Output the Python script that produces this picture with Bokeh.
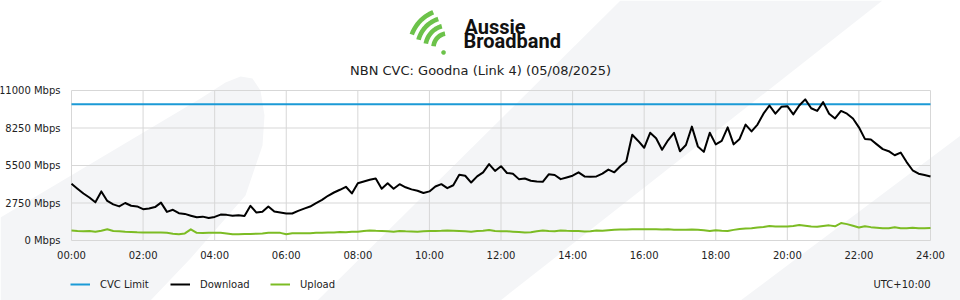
import numpy as np
from bokeh.plotting import figure
from bokeh.models import (ColumnDataSource, FixedTicker, Legend, LegendItem, Label,
                          PolyAnnotation, Range1d, LinearAxis)
from bokeh.embed import file_html
from bokeh.resources import INLINE

# ---------------- data ----------------
interval_minutes = 10
download = [
    4160, 3800, 3450, 3150, 2800, 3600,
    2900, 2650, 2500, 2750, 2550, 2500,
    2300, 2350, 2450, 2780, 2100, 2250,
    2000, 1950, 1820, 1700, 1750, 1650,
    1730, 1900, 1880, 1810, 1850, 1800,
    2540, 2050, 2100, 2490, 2120, 2050,
    1980, 1980, 2170, 2340, 2490, 2740,
    2980, 3280, 3520, 3720, 3940, 3450,
    4200, 4330, 4450, 4550, 3800, 4200,
    3800, 4130, 3900, 3750, 3650, 3480,
    3600, 3960, 4130, 3840, 4050, 4820,
    4750, 4250, 4700, 5000, 5600, 5100,
    5450, 4950, 4900, 4500, 4550, 4380,
    4330, 4300, 4850, 4800, 4500, 4620,
    4750, 5000, 4700, 4680, 4700, 4900,
    5200, 5000, 5450, 5800, 7750, 7300,
    6800, 7900, 7500, 6650, 7350, 7900,
    6550, 7000, 8350, 6900, 6500, 7900,
    7050, 7300, 8300, 7050, 7450, 8500,
    8000, 8500, 9300, 9900, 9300, 9800,
    9850, 9250, 9900, 10350, 9700, 9500,
    10150, 9300, 8950, 9500, 9300, 8950,
    8300, 7450, 7400, 7050, 6700, 6550,
    6250, 6450, 5750, 5150, 4900, 4800,
    4690,
]
upload = [
    740, 700, 680, 690, 640, 720,
    820, 700, 680, 640, 630, 600,
    580, 580, 580, 580, 560, 500,
    460, 520, 820, 560, 550, 560,
    570, 560, 520, 460, 450, 470,
    480, 500, 520, 560, 570, 560,
    460, 530, 540, 540, 540, 560,
    560, 580, 580, 620, 600, 640,
    650, 700, 740, 710, 700, 680,
    650, 690, 670, 660, 650, 670,
    690, 700, 710, 740, 720, 700,
    680, 650, 690, 710, 770, 700,
    680, 680, 650, 620, 580, 610,
    680, 740, 700, 680, 740, 710,
    700, 690, 660, 680, 740, 720,
    760, 790, 800, 810, 820, 820,
    820, 820, 820, 810, 820, 790,
    780, 790, 800, 780, 760, 700,
    760, 720, 700, 780, 850, 880,
    900, 950, 990, 1060, 1030, 1020,
    1030, 1060, 1130, 1080, 1020, 1000,
    1060, 1110, 1040, 1280, 1200, 1080,
    950, 1050, 980, 940, 900, 900,
    970, 900, 900, 940, 900, 890,
    920,
]
cvc_limit = 10000
y_ticks = [0, 2750, 5500, 8250, 11000]
y_tick_labels = ["0 Mbps", "2750 Mbps", "5500 Mbps", "8250 Mbps", "11000 Mbps"]
x_ticks = [0, 2, 4, 6, 8, 10, 12, 14, 16, 18, 20, 22, 24]
x_tick_labels = ["00:00", "02:00", "04:00", "06:00", "08:00", "10:00", "12:00",
                 "14:00", "16:00", "18:00", "20:00", "22:00", "24:00"]
series_names = ["CVC Limit", "Download", "Upload"]
title_text = "NBN CVC: Goodna (Link 4) (05/08/2025)"
brand_lines = ["Aussie", "Broadband"]
timezone_text = "UTC+10:00"

hours = [i * interval_minutes / 60 for i in range(len(download))]
src = ColumnDataSource(dict(t=hours, down=download, up=upload))

# ---------------- layout (pixels of the 960x300 canvas) ----------------
W, H = 960, 300
CL, CR, CT, CB = 71, 930, 90, 240          # chart rectangle on the canvas
x0, x1 = x_ticks[0], x_ticks[-1]
y0, y1 = y_ticks[0], y_ticks[-1]
kx = (x1 - x0) / (CR - CL)
ky = (y1 - y0) / (CB - CT)
x_range = Range1d(x0 - CL * kx, x1 + (W - CR) * kx)
y_range = Range1d(y0 - (H - CB) * ky, y1 + CT * ky)


def sx(cx):
    return cx


def sy(cy):
    return H - cy


FONT = "DejaVu Sans"
BLUE = "#1b9ad6"
GREEN = "#7cbc24"
LOGO_GREEN = "#6cc24a"
TEXT = "#222222"
GRID = "#d7d7d7"

p = figure(width=W, height=H, x_range=x_range, y_range=y_range,
           x_axis_type=None, y_axis_type=None, title=None,
           output_backend="svg", toolbar_location=None,
           min_border=0, min_border_left=0, min_border_right=0,
           min_border_top=0, min_border_bottom=0,
           background_fill_color="white", border_fill_color="white",
           outline_line_color=None)

# watermark stripes
stripes = [
    [(0, 217), (200, 98), (225, 82), (240, 76), (252, 78), (260, 90), (264, 115),
     (262, 145), (245, 195), (190, 258), (150, 300), (0, 300)],
    [(620, 0), (882, 0), (500, 300), (317, 300)],
    [(960, 135), (960, 300), (740, 300)],
]
for s in stripes:
    p.add_layout(PolyAnnotation(xs=[sx(a) for a, b in s], ys=[sy(b) for a, b in s],
                                xs_units="screen", ys_units="screen",
                                fill_color="#f4f5f7", fill_alpha=1.0, line_color=None,
                                level="image"))

# logo swirl (decorative)
lcx, lcy = 447, 47
for r, a0, a1 in [(14, 100, 175), (22, 105, 170), (30, 108, 165), (38, 112, 160)]:
    a = np.linspace(np.radians(a0), np.radians(a1), 30)
    outer = [(lcx + (r + 2.3) * np.cos(t), lcy - (r + 2.3) * np.sin(t)) for t in a]
    inner = [(lcx + (r - 2.3) * np.cos(t), lcy - (r - 2.3) * np.sin(t)) for t in a[::-1]]
    pts = outer + inner
    p.add_layout(PolyAnnotation(xs=[sx(u) for u, v in pts], ys=[sy(v) for u, v in pts],
                                xs_units="screen", ys_units="screen",
                                fill_color=LOGO_GREEN, fill_alpha=1.0, line_color=None))
dot = [(443 + 2.3 * np.cos(t), 52 - 2.3 * np.sin(t)) for t in np.linspace(0, 2 * np.pi, 16)]
p.add_layout(PolyAnnotation(xs=[sx(u) for u, v in dot], ys=[sy(v) for u, v in dot],
                            xs_units="screen", ys_units="screen",
                            fill_color=LOGO_GREEN, fill_alpha=1.0, line_color=None))

for txt, bx, by in [(brand_lines[0], 464, 26), (brand_lines[1], 463, 40.5)]:
    p.add_layout(Label(x=sx(bx), y=sy(by), x_units="screen", y_units="screen", text=txt,
                       text_font="Roboto", text_font_style="bold", text_font_size="20px",
                       text_color="#111111", text_baseline="alphabetic"))

p.add_layout(Label(x=sx(480), y=sy(70), x_units="screen", y_units="screen", text=title_text,
                   text_font=FONT, text_font_size="13px", text_color=TEXT,
                   text_align="center", text_baseline="middle"))
p.add_layout(Label(x=sx(930), y=sy(284), x_units="screen", y_units="screen", text=timezone_text,
                   text_font=FONT, text_font_size="10px", text_color=TEXT,
                   text_align="right", text_baseline="middle"))

# grid lines from the tick arrays
p.segment(x0=x_ticks, y0=[y0] * len(x_ticks), x1=x_ticks, y1=[y1] * len(x_ticks),
          line_color=GRID, line_width=1, level="underlay")
p.segment(x0=[x0] * len(y_ticks), y0=y_ticks, x1=[x1] * len(y_ticks), y1=y_ticks,
          line_color=GRID, line_width=1, level="underlay")

# series
r_cvc = p.line(x=[hours[0], hours[-1]], y=[cvc_limit, cvc_limit], line_color=BLUE, line_width=2)
r_down = p.line("t", "down", source=src, line_color="black", line_width=2, line_join="round")
r_up = p.line("t", "up", source=src, line_color=GREEN, line_width=2, line_join="round")

# axes fixed at the chart's edges
xax = LinearAxis(fixed_location=y0, ticker=FixedTicker(ticks=x_ticks),
                 major_label_overrides={t: l for t, l in zip(x_ticks, x_tick_labels)})
yax = LinearAxis(fixed_location=x0, ticker=FixedTicker(ticks=y_ticks),
                 major_label_overrides={t: l for t, l in zip(y_ticks, y_tick_labels)})
for ax in (xax, yax):
    ax.axis_line_color = None
    ax.major_tick_line_color = None
    ax.minor_tick_line_color = None
    ax.major_tick_out = 0
    ax.major_tick_in = 0
    ax.major_label_text_font = FONT
    ax.major_label_text_font_size = "10px"
    ax.major_label_text_color = TEXT
xax.major_label_standoff = 9
yax.major_label_standoff = 11
p.add_layout(xax, "below")
p.add_layout(yax, "left")

legend = Legend(items=[LegendItem(label=series_names[0], renderers=[r_cvc]),
                       LegendItem(label=series_names[1], renderers=[r_down]),
                       LegendItem(label=series_names[2], renderers=[r_up])],
                orientation="horizontal", location=(sx(70), sy(290)),
                glyph_width=20, glyph_height=12, label_standoff=10, label_width=70,
                spacing=0, padding=0, margin=0,
                label_text_font=FONT, label_text_font_size="10px", label_text_color=TEXT,
                background_fill_alpha=0, border_line_color=None)
p.add_layout(legend)

open("out.html", "w").write(file_html(p, INLINE))
